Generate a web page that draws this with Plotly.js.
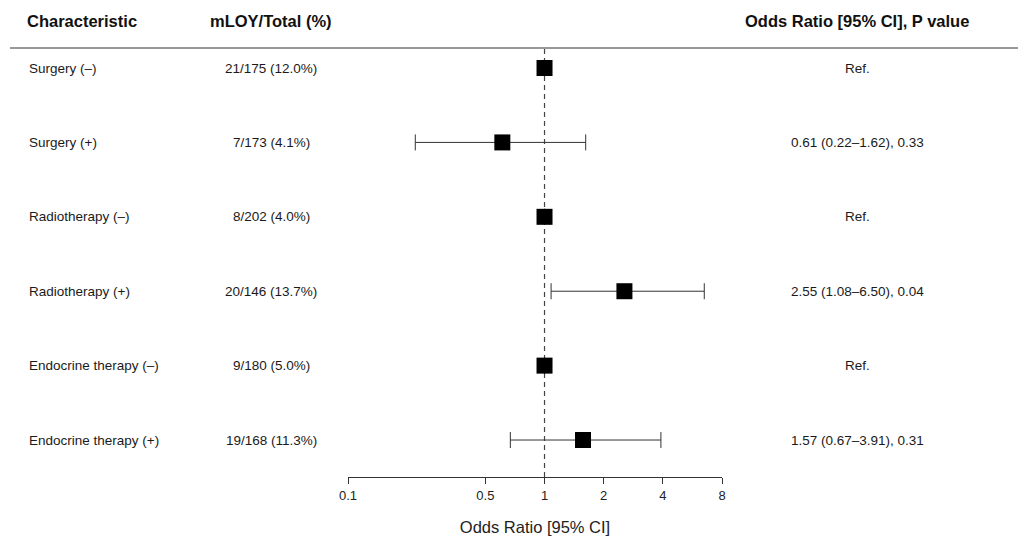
<!DOCTYPE html>
<html>
<head>
<meta charset="utf-8">
<script src="https://cdn.plot.ly/plotly-3.0.1.min.js"></script>
<style>
  html, body { margin: 0; padding: 0; background: #ffffff; }
  #chart { width: 1024px; height: 539px; }
</style>
</head>
<body>
<div id="chart"></div>
<script>
// ---- Data ----
const characteristics = [
  'Surgery (–)', 'Surgery (+)',
  'Radiotherapy (–)', 'Radiotherapy (+)',
  'Endocrine therapy (–)', 'Endocrine therapy (+)'
];
const mloyTotal = [
  '21/175 (12.0%)', '7/173 (4.1%)',
  '8/202 (4.0%)', '20/146 (13.7%)',
  '9/180 (5.0%)', '19/168 (11.3%)'
];
const oddsRatio = [1, 0.61, 1, 2.55, 1, 1.57];
const ciLower   = [1, 0.22, 1, 1.08, 1, 0.67];
const ciUpper   = [1, 1.62, 1, 6.50, 1, 3.91];
const orText = [
  'Ref.', '0.61 (0.22–1.62), 0.33',
  'Ref.', '2.55 (1.08–6.50), 0.04',
  'Ref.', '1.57 (0.67–3.91), 0.31'
];
const tickValues = [0.1, 0.5, 1, 2, 4, 8];
const tickLabels = ['0.1', '0.5', '1', '2', '4', '8'];
const headers = ['Characteristic', 'mLOY/Total (%)', 'Odds Ratio [95% CI], P value'];

// ---- Build ----
const rowIdx = characteristics.map((_, i) => i);
const errPlus = oddsRatio.map((v, i) => ciUpper[i] - v);
const errMinus = oddsRatio.map((v, i) => v - ciLower[i]);

const FONT = 'Liberation Sans, Arial, Helvetica, sans-serif';
const plotL = 348, plotR = 722, plotT = 48, plotB = 477;
const pxX = px => (px - plotL) / (plotR - plotL);
const pxY = py => (plotB - py) / (plotB - plotT);

const trace = {
  type: 'scatter',
  mode: 'markers',
  x: oddsRatio,
  y: rowIdx,
  marker: { symbol: 'square', size: 16, color: '#000000', line: { width: 0 } },
  error_x: {
    type: 'data',
    symmetric: false,
    array: errPlus,
    arrayminus: errMinus,
    color: '#333333',
    thickness: 1,
    width: 8
  },
  hoverinfo: 'skip',
  showlegend: false,
  cliponaxis: false
};

const annotations = [];
const colX = [pxX(27), pxX(271), pxX(857)];
const colAnchor = ['left', 'center', 'center'];
headers.forEach((h, j) => {
  annotations.push({
    xref: 'paper', yref: 'paper', x: j === 0 ? pxX(25) : colX[j], y: pxY(21),
    xanchor: colAnchor[j], yanchor: 'middle', showarrow: false,
    text: '<b>' + h + '</b>',
    font: { family: FONT, size: 16.5, color: '#111111' }
  });
});
rowIdx.forEach(i => {
  [characteristics[i], mloyTotal[i], orText[i]].forEach((t, j) => {
    annotations.push({
      xref: 'paper', yref: 'y', x: colX[j], y: i,
      xanchor: colAnchor[j], yanchor: 'middle', showarrow: false,
      text: t,
      font: { family: FONT, size: 13.5, color: '#1a1a1a' }
    });
  });
});

const layout = {
  width: 1024, height: 539,
  margin: { l: plotL, r: 1024 - plotR, t: plotT, b: 539 - plotB, pad: 0 },
  paper_bgcolor: '#ffffff', plot_bgcolor: '#ffffff',
  font: { family: FONT, color: '#222222' },
  xaxis: {
    type: 'log',
    range: [-1, Math.log10(8)],
    showgrid: false, zeroline: false,
    showline: true, linecolor: '#333333', linewidth: 1,
    ticks: 'outside', ticklen: 6, tickwidth: 1, tickcolor: '#333333',
    tickvals: tickValues, ticktext: tickLabels,
    tickfont: { family: FONT, size: 13, color: '#222222' },
    title: { text: 'Odds Ratio [95% CI]', font: { family: FONT, size: 16.5, color: '#222222' }, standoff: 19 },
    fixedrange: true
  },
  yaxis: {
    range: [5.497, -0.269],
    showgrid: false, zeroline: false, showline: false,
    showticklabels: false, ticks: '',
    fixedrange: true
  },
  shapes: [
    { type: 'line', xref: 'paper', yref: 'paper', x0: pxX(10), x1: pxX(1018), y0: 1, y1: 1,
      line: { color: '#333333', width: 1 } },
    { type: 'line', xref: 'x', yref: 'paper', x0: 1, x1: 1, y0: 0, y1: 1,
      line: { color: '#444444', width: 1.2, dash: '5px,4px' }, layer: 'below' }
  ],
  annotations: annotations
};

Plotly.newPlot('chart', [trace], layout, { displayModeBar: false, staticPlot: true });
</script>
</body>
</html>
